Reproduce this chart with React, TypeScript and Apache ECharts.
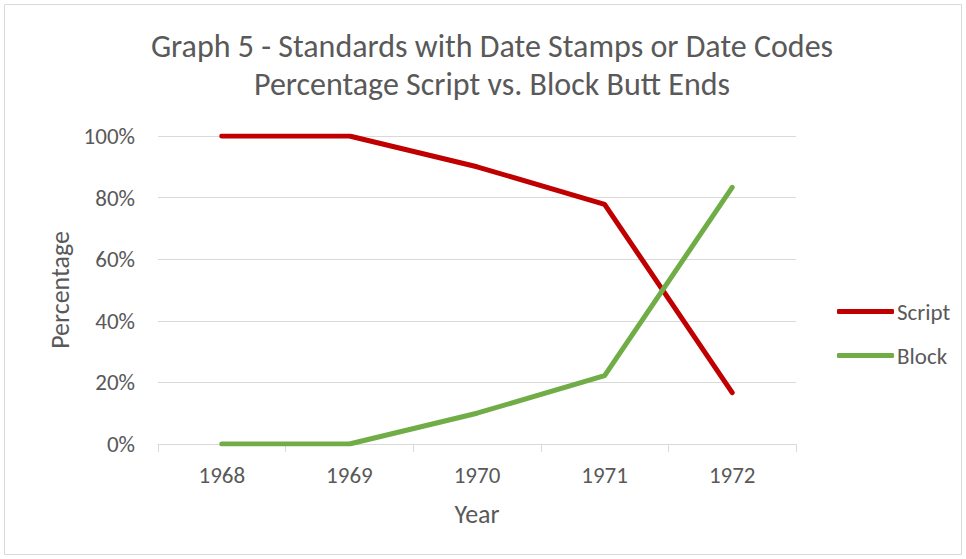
import React, { useEffect, useRef } from "react";
import * as echarts from "echarts";

const titleLines = ["Graph 5 - Standards with Date Stamps or Date Codes", "Percentage Script vs. Block Butt Ends"];
const years = ["1968", "1969", "1970", "1971", "1972"];
const scriptValues = [100, 100, 90, 77.8, 16.7];
const blockValues = [0, 0, 10, 22.2, 83.3];
const seriesNames = ["Script", "Block"];
const seriesColors = ["#C00000", "#70AD47"];

const FONT = "Carlito, Lato, 'Open Sans', sans-serif";
const TXT = "#595959";

export default function App() {
  const ref = useRef<HTMLDivElement>(null);
  useEffect(() => {
    if (!ref.current) return;
    const chart = echarts.init(ref.current, undefined, { renderer: "svg" });
    chart.setOption({
      animation: false,
      backgroundColor: "#ffffff",
      textStyle: { fontFamily: FONT },
      graphic: [
        {
          type: "rect",
          shape: { x: 4.5, y: 4.5, width: 957, height: 550 },
          style: { fill: "none", stroke: "#d9d9d9", lineWidth: 1 },
          silent: true,
        },
        {
          type: "text",
          x: 492,
          y: 27,
          silent: true,
          style: {
            text: titleLines.join("\n"),
            fontFamily: FONT,
            fontSize: 32,
            lineHeight: 38,
            fill: TXT,
            align: "center",
            verticalAlign: "top",
          },
        },
      ],
      legend: {
        orient: "vertical",
        left: 832,
        top: 295,
        itemGap: 21,
        itemWidth: 57,
        itemHeight: 5,
        icon: "roundRect",
        textStyle: { fontFamily: FONT, fontSize: 23, color: TXT, padding: [0, 0, 0, -2] },
        data: seriesNames,
      },
      grid: { left: 158, right: 170, top: 136, bottom: 115, containLabel: false },
      xAxis: {
        type: "category",
        data: years,
        boundaryGap: true,
        name: "Year",
        nameLocation: "middle",
        nameGap: 57,
        nameTextStyle: { fontFamily: FONT, fontSize: 26, color: TXT },
        axisLine: { lineStyle: { color: "#d9d9d9", width: 1 } },
        axisTick: { show: true, length: 8, lineStyle: { color: "#d9d9d9" } },
        axisLabel: { fontFamily: FONT, fontSize: 23, color: TXT, margin: 19 },
      },
      yAxis: {
        type: "value",
        min: 0,
        max: 100,
        interval: 20,
        name: "Percentage",
        nameLocation: "middle",
        nameGap: 85,
        nameTextStyle: { fontFamily: FONT, fontSize: 26, color: TXT },
        axisLine: { show: false },
        axisTick: { show: false },
        splitLine: { lineStyle: { color: "#d9d9d9", width: 1 } },
        axisLabel: { fontFamily: FONT, fontSize: 23, color: TXT, margin: 23, formatter: "{value}%" },
      },
      series: [
        {
          name: seriesNames[0],
          type: "line",
          data: scriptValues,
          symbol: "none",
          color: seriesColors[0],
          lineStyle: { width: 5, color: seriesColors[0], cap: "round", join: "round" },
        },
        {
          name: seriesNames[1],
          type: "line",
          data: blockValues,
          symbol: "none",
          color: seriesColors[1],
          lineStyle: { width: 5, color: seriesColors[1], cap: "round", join: "round" },
        },
      ],
    });
    return () => chart.dispose();
  }, []);
  return (
    <div
      ref={ref}
      style={{ position: "fixed", left: 0, top: 0, width: 966, height: 559 }}
    />
  );
}
